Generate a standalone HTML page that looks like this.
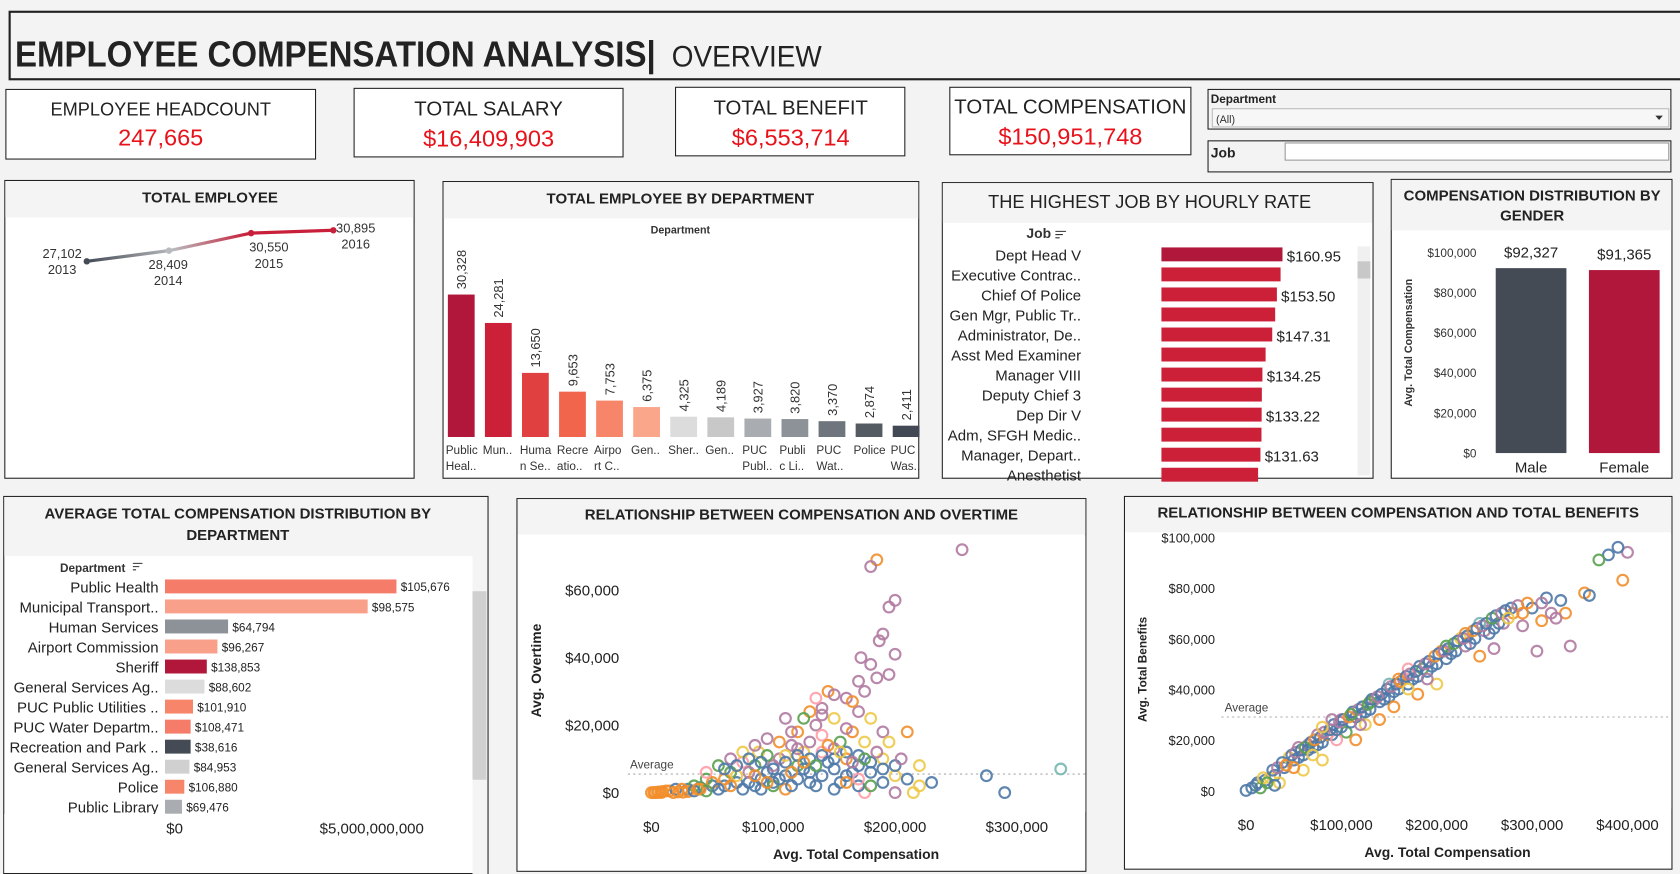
<!DOCTYPE html>
<html><head><meta charset="utf-8"><style>
html,body{margin:0;padding:0;background:#f3f3f3;overflow:hidden}
svg{display:block;font-family:"Liberation Sans",sans-serif}
</style></head><body>
<svg id="root" width="1680" height="874" viewBox="0 0 1568 816" preserveAspectRatio="none" xmlns="http://www.w3.org/2000/svg">
<defs><linearGradient id="lg" x1="0" x2="1"><stop offset="0" stop-color="#444b55"/><stop offset="0.35" stop-color="#b8babd"/><stop offset="0.65" stop-color="#c8203b"/><stop offset="1" stop-color="#c8203b"/></linearGradient></defs>
<rect x="0" y="0" width="1568" height="816" fill="#f3f3f3"/>
<g>
<rect x="9" y="11" width="1570" height="63" fill="#f3f3f3" stroke="#222" stroke-width="2"/>
<text x="14" y="62" font-size="34" font-weight="bold" fill="#222" textLength="598" lengthAdjust="spacingAndGlyphs">EMPLOYEE COMPENSATION ANALYSIS|</text>
<text x="627" y="62" font-size="28" fill="#222" textLength="140" lengthAdjust="spacingAndGlyphs">OVERVIEW</text>
</g>
<g><rect x="5.5" y="83.5" width="289" height="65" fill="#fff" stroke="#222"/><text x="150" y="108" text-anchor="middle" font-size="17" fill="#222">EMPLOYEE HEADCOUNT</text><text x="150" y="136" text-anchor="middle" font-size="22" fill="#e8121b">247,665</text></g>
<g><rect x="330.5" y="82.5" width="251" height="64" fill="#fff" stroke="#222"/><text x="456" y="108" text-anchor="middle" font-size="19" fill="#222">TOTAL SALARY</text><text x="456" y="137" text-anchor="middle" font-size="22" fill="#e8121b">$16,409,903</text></g>
<g><rect x="630.5" y="81.5" width="214" height="64" fill="#fff" stroke="#222"/><text x="738" y="107" text-anchor="middle" font-size="19" fill="#222">TOTAL BENEFIT</text><text x="738" y="136" text-anchor="middle" font-size="22" fill="#e8121b">$6,553,714</text></g>
<g><rect x="886.5" y="81.5" width="225" height="63" fill="#fff" stroke="#222"/><text x="999" y="106" text-anchor="middle" font-size="19" fill="#222">TOTAL COMPENSATION</text><text x="999" y="135" text-anchor="middle" font-size="22" fill="#e8121b">$150,951,748</text></g>
<g><rect x="1127.5" y="83.5" width="432" height="37" fill="#f3f3f3" stroke="#222"/><text x="1130" y="96" font-size="11" font-weight="bold" fill="#222">Department</text><rect x="1131.5" y="101.5" width="426" height="17" fill="#f7f7f7" stroke="#bbb"/><text x="1135" y="115" font-size="10" fill="#333">(All)</text><path d="M1545 108h7l-3.5 4z" fill="#333"/></g>
<g><rect x="1127.5" y="131.5" width="432" height="29" fill="#f3f3f3" stroke="#222"/><text x="1130" y="147" font-size="13" font-weight="bold" fill="#222">Job</text><rect x="1199.5" y="133.5" width="358" height="16" fill="#fff" stroke="#999"/></g>

<g><rect x="4.5" y="168.5" width="382" height="278" fill="#fff" stroke="#222"/><rect x="5" y="169" width="381" height="34" fill="#f4f4f4"/><text x="196" y="189" text-anchor="middle" font-size="14" font-weight="bold" fill="#222">TOTAL EMPLOYEE</text><g id="lineChart"></g></g>
<g><rect x="413.5" y="169.5" width="444" height="277" fill="#fff" stroke="#222"/><rect x="414" y="170" width="443" height="34" fill="#f4f4f4"/><text x="635" y="190" text-anchor="middle" font-size="14" font-weight="bold" fill="#222">TOTAL EMPLOYEE BY DEPARTMENT</text><text x="635" y="218" text-anchor="middle" font-size="10" font-weight="bold" fill="#333">Department</text><g id="deptChart"></g></g>
<g><rect x="879.5" y="170.5" width="402" height="276" fill="#fff" stroke="#222"/><rect x="880" y="171" width="401" height="37" fill="#f4f4f4"/><text x="1073" y="194" text-anchor="middle" font-size="17" fill="#222">THE HIGHEST JOB  BY HOURLY RATE</text><text x="958" y="222" font-size="13" font-weight="bold" fill="#333">Job</text><path d="M985 216h10M985 219h7M985 222h4" stroke="#333"/><rect x="1267" y="230" width="12" height="214" fill="#f0f0f0"/><rect x="1267" y="244" width="12" height="16" fill="#c8c8c8"/><g id="jobChart"></g></g>
<g><rect x="1298.5" y="167.5" width="262" height="279" fill="#fff" stroke="#222"/><rect x="1299" y="168" width="261" height="47" fill="#f4f4f4"/><text x="1430" y="187" text-anchor="middle" font-size="14" font-weight="bold" fill="#222">COMPENSATION DISTRIBUTION BY</text><text x="1430" y="206" text-anchor="middle" font-size="14" font-weight="bold" fill="#222">GENDER</text><text transform="translate(1318,320) rotate(-90)" text-anchor="middle" font-size="10" font-weight="bold" fill="#333">Avg. Total Compensation</text><g id="genderChart"></g></g>

<g><rect x="3.5" y="463.5" width="452" height="352" fill="#fff" stroke="#222"/><rect x="4" y="464" width="451" height="55" fill="#f4f4f4"/><rect x="441" y="519" width="14" height="297" fill="#f4f4f4"/><text x="222" y="484" text-anchor="middle" font-size="14" font-weight="bold" fill="#222">AVERAGE TOTAL COMPENSATION DISTRIBUTION BY</text><text x="222" y="504" text-anchor="middle" font-size="14" font-weight="bold" fill="#222">DEPARTMENT</text><text x="56" y="534" font-size="11" font-weight="bold" fill="#333">Department</text><path d="M124 526h9M124 529h6M124 532h3" stroke="#333"/><rect x="441" y="552" width="13" height="176" fill="#d0d0d0"/><text x="296" y="804" text-anchor="middle" font-size="13" font-weight="bold" fill="#222">Total Compensation</text><path d="M368 796h10M368 799h7M368 802h4" stroke="#333"/><g id="avgChart"></g></g>
<g><rect x="482.5" y="465.5" width="531" height="348" fill="#fff" stroke="#222"/><rect x="483" y="466" width="530" height="33" fill="#f4f4f4"/><text x="748" y="485" text-anchor="middle" font-size="14" font-weight="bold" fill="#222">RELATIONSHIP BETWEEN COMPENSATION AND OVERTIME</text><text transform="translate(505,626) rotate(-90)" text-anchor="middle" font-size="13" font-weight="bold" fill="#222">Avg. Overtime</text><text x="799" y="802" text-anchor="middle" font-size="13" font-weight="bold" fill="#222">Avg. Total Compensation</text><g id="otChart"></g></g>
<g><rect x="1049.5" y="463.5" width="511" height="348" fill="#fff" stroke="#222"/><rect x="1050" y="464" width="510" height="33" fill="#f4f4f4"/><text x="1305" y="483" text-anchor="middle" font-size="14" font-weight="bold" fill="#222">RELATIONSHIP BETWEEN COMPENSATION AND TOTAL BENEFITS</text><text transform="translate(1070,625) rotate(-90)" text-anchor="middle" font-size="11" font-weight="bold" fill="#222">Avg. Total Benefits</text><text x="1351" y="800" text-anchor="middle" font-size="13" font-weight="bold" fill="#222">Avg. Total Compensation</text><g id="bfChart"></g></g>
</svg>
<script>
const NS="http://www.w3.org/2000/svg";
function mk(p,tag,a,txt){const e=document.createElementNS(NS,tag);for(const k in a)e.setAttribute(k,a[k]);if(txt!==undefined)e.textContent=txt;p.appendChild(e);return e;}
const fmt=n=>n.toLocaleString('en-US');

const years=["2013","2014","2015","2016"];
const employees=[27102,28409,30550,30895];
const deptNames=[["Public","Heal.."],["Mun..",""],["Huma","n Se.."],["Recre","atio.."],["Airpo","rt C.."],["Gen..",""],["Sher..",""],["Gen..",""],["PUC","Publ.."],["Publi","c Li.."],["PUC","Wat.."],["Police",""],["PUC","Was.."]];
const deptCounts=[30328,24281,13650,9653,7753,6375,4325,4189,3927,3820,3370,2874,2411];
const deptColors=["#b0173a","#cc2038","#e0403f","#f0654c","#f7856a","#f9a68a","#dcdcdc","#c8c8c8","#a9adb1","#8d9298","#6f757c","#555b63","#424954"];
const jobs=["Dept Head V","Executive Contrac..","Chief Of Police","Gen Mgr, Public Tr..","Administrator, De..","Asst Med Examiner","Manager VIII","Deputy Chief 3","Dep Dir V","Adm, SFGH Medic..","Manager, Depart..","Anesthetist"];
const hourly=[160.95,158.4,153.50,151.2,147.31,138.5,134.25,133.5,133.22,133.0,131.63,128.5];
const genders=["Male","Female"];
const genderAvg=[92327,91365];
const genderTicks=[0,20000,40000,60000,80000,100000];
const avgDepts=["Public Health","Municipal Transport..","Human Services","Airport Commission","Sheriff","General Services Ag..","PUC Public Utilities ..","PUC Water Departm..","Recreation and Park ..","General Services Ag..","Police","Public Library"];
const totalComp=[5.87e9,5.14e9,1.60e9,1.33e9,1.06e9,1.0e9,0.71e9,0.65e9,0.65e9,0.62e9,0.49e9,0.43e9];
const avgComp=[105676,98575,64794,96267,138853,88602,101910,108471,38616,84953,106880,69476];
const avgColors=["#f47c69","#f9a08a","#8d9298","#f9a08a","#b0173a","#dcdcdc","#f7856a","#f47c69","#444b55","#d0d0d0","#f7856a","#a9adb1"];
const pal=["#f28e2b","#4e79a7","#b07aa1","#59a14f","#edc948","#ff9da7","#76b7b2"];
const overtime=[[0,0,0],[3,0,0],[6,0.2,0],[9,0.3,0],[12,0.5,0],[15,0.5,0],[20,1,1],[30,1,1],[40,1.5,1],[50,2,1],[60,2,1],[70,3,1],[80,3,1],[90,4,1],[100,3,1],[110,5,1],[120,4,1],[130,6,1],[140,5,1],[150,7,1],[160,5,1],[170,8,1],[180,6,1],[45,4,3],[65,6,3],[85,8,3],[105,10,2],[115,14,2],[125,12,4],[95,16,2],[135,20,2],[140,25,2],[150,22,4],[160,28,2],[165,18,0],[175,15,4],[130,24,0],[110,22,2],[120,18,0],[145,30,0],[170,33,2],[172,40,2],[185,34,2],[180,38,2],[190,47,2],[195,55,2],[200,57,2],[187,45,2],[200,41,2],[195,35,2],[185,69,0],[180,67,2],[255,72,2],[140,23,2],[155,15,3],[88,12,4],[100,2,3],[190,10,4],[200,5,4],[215,0,4],[220,2,4],[230,3,1],[290,0,1],[275,5,1],[336,7,6],[200,0,2],[175,0,5],[75,9,5],[60,4,0],[50,3,0],[35,2,3],[25,1,0],[140,12,5],[160,10,0],[120,8,3],[130,3,1],[150,1,1],[170,2,1],[110,1,0],[90,1,1],[80,6,2],[70,5,4],[55,1,1],[95,6,1],[105,4,1],[125,7,1],[135,2,1],[145,9,1],[155,3,1],[165,6,1],[75,1,1],[85,2,1],[115,2,1],[18,0,0],[22,0.2,0],[26,0.1,0],[30,0.3,0],
[100,8,2],[110,11,4],[120,13,2],[130,15,2],[140,17,5],[150,13,2],[160,19,2],[170,24,2],[180,22,4],[190,18,2],[150,29,2],[165,27,0],[175,30,2],[135,28,5],[125,22,3],[115,18,2],[105,15,0],[95,11,3],[85,14,2],[75,12,4],[65,10,2],[55,8,3],[45,6,5],[60,7,1],[70,8,1],[80,10,1],[90,9,1],[100,7,1],[110,9,1],[120,11,1],[130,10,1],[140,11,1],[150,10,1],[160,12,1],[170,11,1],[180,9,1],[190,7,1],[200,8,1],[210,4,1],[115,6,0],[125,9,0],[135,8,3],[145,14,0],[155,12,4],[165,9,2],[175,10,3],[185,12,2],[195,15,4],[205,10,2],[210,18,0],[220,8,4],[160,3,0],[170,4,5],[180,2,3],[190,3,1],[95,3,0],[85,5,0],[65,2,0],[40,1,0],[45,0.5,3],[35,0.5,1],[38,1,0],[5,0,0],[8,0,0],[2,0,0]];
const benefits=[[0,0,1],[10,2,1],[20,4,1],[25,5,4],[30,6,1],[40,9,1],[45,13,4],[50,12,1],[60,14,1],[65,18,2],[70,17,1],[80,19,1],[85,22,0],[90,22,1],[100,25,1],[105,23,3],[110,27,1],[120,30,1],[125,26,4],[130,32,1],[135,36,2],[140,35,1],[150,37,1],[155,33,0],[160,40,1],[165,44,2],[170,42,1],[180,45,1],[185,48,3],[190,47,1],[200,50,1],[205,55,0],[210,52,1],[220,55,1],[225,60,4],[230,57,2],[240,60,1],[245,53,0],[250,63,2],[260,64,1],[270,66,2],[280,70,0],[290,65,2],[300,72,1],[310,67,0],[320,70,2],[330,75,1],[335,70,0],[325,68,2],[355,78,0],[360,77,1],[395,83,0],[400,94,2],[390,96,1],[380,93,1],[370,91,3],[60,8,4],[80,12,4],[95,20,5],[115,20,0],[75,22,2],[55,17,2],[140,28,0],[200,42,4],[180,38,0],[260,56,2],[340,57,2],[305,55,2],[35,3,4],[15,1,3],[150,42,6],[170,48,5],[230,62,0],[245,66,6],[55,13,1],[65,16,1],[75,18,1],[95,24,1],[115,29,1],[125,31,1],[145,36,1],[155,39,1],[175,44,1],[195,49,1],[215,54,1],[235,58,1],[255,62,1],[265,66,1],[100,28,2],[130,35,3],[160,44,0],[210,57,3],
[12,3,1],[18,5,4],[22,3,3],[28,8,1],[33,9,2],[38,11,1],[42,10,0],[48,14,1],[52,15,2],[58,16,1],[62,17,3],[68,19,1],[72,20,0],[78,21,1],[82,23,2],[88,24,1],[92,26,1],[98,27,2],[102,28,1],[108,29,0],[112,31,1],[118,32,2],[122,33,1],[128,34,3],[132,36,1],[138,37,2],[142,38,1],[148,40,1],[152,41,2],[158,42,1],[162,43,0],[168,45,1],[172,46,2],[178,47,1],[182,49,1],[188,50,2],[192,51,1],[198,53,0],[202,54,1],[208,55,2],[212,56,1],[218,58,3],[222,59,1],[228,60,2],[232,61,1],[238,63,0],[242,64,1],[248,65,2],[252,66,1],[258,68,3],[262,69,1],[268,70,2],[272,71,1],[278,72,1],[285,73,2],[295,74,0],[315,76,1],[275,68,4],[290,70,0],[310,74,2],[120,26,2],[170,40,4],[190,44,2],[110,30,3],[90,28,2],[70,14,4],[50,9,0],[80,25,4],[30,2,1],[6,1,1]];
const otTicksY=[0,20000,40000,60000], otTicksX=[0,100000,200000,300000];
const bfTicksY=[0,20000,40000,60000,80000,100000], bfTicksX=[0,100000,200000,300000,400000];
const money=v=>"$"+fmt(v);

{const g=document.getElementById('lineChart');
 const x=i=>81+i*76.7, y=v=>244-(v-27102)*29/3793;
 let d=employees.map((v,i)=>(i?'L':'M')+x(i)+' '+y(v)).join('');
 const p=mk(g,'path',{d:d,fill:'none',stroke:'url(#lg)','stroke-width':3});
 
 
 const pc=["#444b55","#b8babd","#c8203b","#c8203b"];
 employees.forEach((v,i)=>{
  const c=mk(g,'circle',{cx:x(i),cy:y(v),r:3,fill:pc[i]});
  
  
  const lx=[58,157,251,332][i], ly=[241,251,235,217][i];
  mk(g,'text',{x:lx,y:ly,'text-anchor':'middle','font-size':12,fill:'#333'},fmt(v));
  mk(g,'text',{x:lx,y:ly+15,'text-anchor':'middle','font-size':12,fill:'#333'},years[i]);
 });}

{const g=document.getElementById('deptChart');
 const base=408,sc=133/30328;
 deptCounts.forEach((v,i)=>{const x=418+i*34.6,h=v*sc;
  const r=mk(g,'rect',{x:x,y:base-h,width:25,height:h,fill:deptColors[i]});
  
  
  mk(g,'text',{transform:`translate(${x+17},${base-h-5}) rotate(-90)`,'font-size':12,fill:'#333'},fmt(v));
  mk(g,'text',{x:x-2,y:424,'font-size':11,fill:'#333'},deptNames[i][0]);
  mk(g,'text',{x:x-2,y:439,'font-size':11,fill:'#333'},deptNames[i][1]);
 });}

{const g=document.getElementById('jobChart');
 const sc=113/160.95;
 jobs.forEach((j,i)=>{const y=231+i*18.7;
  mk(g,'text',{x:1009,y:y+12,'text-anchor':'end','font-size':14,fill:'#222'},j);
  const r=mk(g,'rect',{x:1084,y:y,width:hourly[i]*sc,height:13,fill:i==0?'#b0173a':'#cc2038'});
  
  
  if(i%2==0)mk(g,'text',{x:1084+hourly[i]*sc+4,y:y+13,'font-size':14,fill:'#222'},'$'+hourly[i].toFixed(2));
 });}

{const g=document.getElementById('genderChart');
 const y=v=>423-v*187/100000;
 genderTicks.forEach(t=>mk(g,'text',{x:1378,y:y(t)+4,'text-anchor':'end','font-size':11,fill:'#333'},money(t)));
 genderAvg.forEach((v,i)=>{const x=[1396,1483][i];
  const r=mk(g,'rect',{x:x,y:y(v),width:66,height:423-y(v),fill:i?'#b0173a':'#444b55'});
  
  
  mk(g,'text',{x:x+33,y:y(v)-10,'text-anchor':'middle','font-size':14,fill:'#222'},money(v));
  mk(g,'text',{x:x+33,y:441,'text-anchor':'middle','font-size':14,fill:'#222'},genders[i]);
 });}

{const g=document.getElementById('avgChart');
 const sc=184/5e9;
 avgDepts.forEach((d,i)=>{const y=541+i*18.7;
  mk(g,'text',{x:148,y:y+12,'text-anchor':'end','font-size':14,fill:'#222'},d);
  const w=totalComp[i]*sc;
  const r=mk(g,'rect',{x:154,y:y,width:w,height:13,fill:avgColors[i]});
  
  
  mk(g,'text',{x:158+w,y:y+11,'font-size':11,fill:'#222'},money(avgComp[i]));
 });
 mk(g,'rect',{x:4,y:760,width:437,height:55,fill:'#fff'});
 mk(g,'text',{x:163,y:778,'text-anchor':'middle','font-size':14,fill:'#222'},'$0');
 mk(g,'text',{x:347,y:778,'text-anchor':'middle','font-size':14,fill:'#222'},'$5,000,000,000');
}

function scatter(id,data,tx,ty,xs,ys,avgY,avgLabelX,prefix,xLabY,yLabX,plot){
 const g=document.getElementById(id);
 mk(g,'rect',plot);
 ty.forEach(t=>mk(g,'text',{x:yLabX,y:ys(t)+5,'text-anchor':'end','font-size':prefix=='ot'?14:12,fill:'#222'},money(t)));
 tx.forEach(t=>mk(g,'text',{x:xs(t),y:xLabY,'text-anchor':'middle','font-size':14,fill:'#222'},money(t)));
 mk(g,'line',{x1:plot.x,x2:plot.x+plot.width,y1:ys(avgY),y2:ys(avgY),stroke:'#aaa','stroke-dasharray':'2,3'});
 mk(g,'text',{x:avgLabelX,y:ys(avgY)-5,'font-size':11,fill:'#444'},'Average');
 data.forEach((p,i)=>{
  const c=mk(g,'circle',{cx:xs(p[0]*1000),cy:ys(p[1]*1000),r:5,fill:'none',stroke:pal[p[2]],'stroke-width':2,opacity:0.9});
  
  
 });
}
scatter('otChart',overtime,otTicksX,otTicksY,v=>608+v*113.7/100000,v=>740-v*63/20000,5500,588,'ot',777,578,{x:586,y:500,width:427,height:258,fill:'#fff'});
scatter('bfChart',benefits,bfTicksX,bfTicksY,v=>1163+v*89/100000,v=>738-v*47.3/20000,29000,1143,'bf',775,1134,{x:1140,y:498,width:420,height:257,fill:'#fff'});
</script>
</body></html>
